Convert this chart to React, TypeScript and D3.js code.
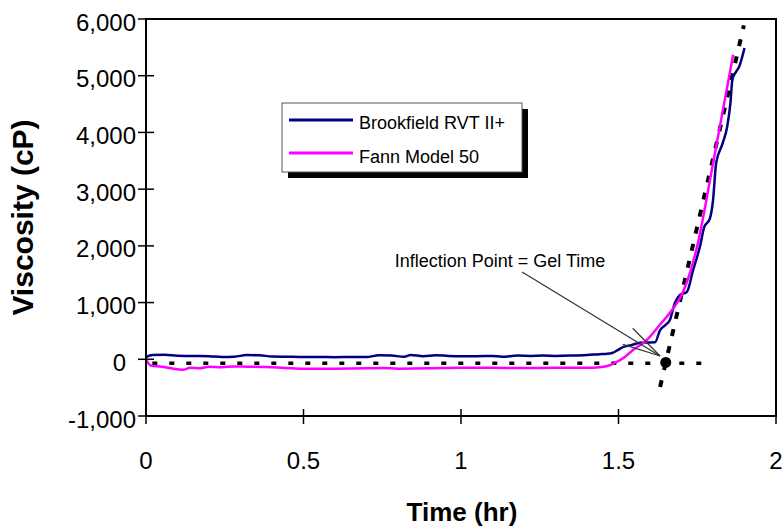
import React from "react";
import * as d3 from "d3";

// ---- data ----
const X_TICKS = [0, 0.5, 1, 1.5, 2];
const X_TICK_LABELS = ["0", "0.5", "1", "1.5", "2"];
const Y_TICKS = [-1000, 0, 1000, 2000, 3000, 4000, 5000, 6000];
const Y_TICK_LABELS = ["-1,000", "0", "1,000", "2,000", "3,000", "4,000", "5,000", "6,000"];

const SERIES_NAMES = ["Brookfield RVT II+", "Fann Model 50"];

const brookfieldTime = [
  0, 0.02, 0.06, 0.1, 0.15, 0.2, 0.24, 0.28, 0.32, 0.36, 0.4, 0.45, 0.5, 0.55, 0.6, 0.65, 0.7,
  0.74, 0.78, 0.82, 0.84, 0.88, 0.92, 0.96, 1.0, 1.05, 1.1, 1.13, 1.18, 1.22, 1.26, 1.3, 1.35,
  1.4, 1.44, 1.46, 1.48, 1.5, 1.514, 1.54, 1.568, 1.59, 1.616, 1.632, 1.648, 1.663, 1.679,
  1.695, 1.717, 1.737, 1.759, 1.772, 1.79, 1.8, 1.81, 1.83, 1.845, 1.855, 1.862, 1.872, 1.883, 1.9,
];
const brookfieldVisc = [
  40, 75, 80, 62, 58, 55, 40, 45, 75, 70, 50, 45, 40, 40, 38, 40, 40,
  72, 65, 45, 75, 55, 70, 60, 55, 55, 60, 45, 65, 60, 65, 60, 65,
  75, 90, 95, 110, 170, 216, 250, 290, 295, 300, 516, 600, 693, 993,
  1134, 1187, 1575, 2000, 2330, 2480, 2800, 3460, 3800, 4100, 4500, 4950, 5060, 5160, 5490,
];

const fannTime = [
  0, 0.015, 0.05, 0.08, 0.117, 0.14, 0.17, 0.2, 0.24, 0.28, 0.32, 0.4, 0.5, 0.6, 0.7, 0.75,
  0.8, 0.9, 1.0, 1.1, 1.2, 1.3, 1.4, 1.44, 1.47, 1.5, 1.52, 1.545, 1.59, 1.63, 1.67, 1.7,
  1.73, 1.75, 1.8, 1.864,
];
const fannVisc = [
  0, -110, -130, -160, -185, -150, -160, -130, -140, -125, -130, -140, -165, -165, -160, -155,
  -165, -160, -150, -150, -155, -150, -150, -140, -110, -30, 40, 160, 340, 600, 870, 1130,
  1580, 2000, 3450, 5370,
];

// baseline and tangent construction lines
const baselineTime = [0.02, 1.79];
const baselineVisc = [-70, -70];
const tangentTime = [1.632, 1.898];
const tangentVisc = [-490, 5887];
const gelPoint = { t: 1.65, v: -55 };
const annotationText = "Inflection Point = Gel Time";
const annotationAt = { t: 1.124, v: 1628 };
const arrowFrom = { t: 1.194, v: 1540 };
const arrowTo = { t: 1.632, v: 58 };

const FONT = "'Liberation Sans', Arial, Helvetica, sans-serif";

export default function App() {
  const W = 783;
  const H = 527;
  const x = d3.scaleLinear().domain([0, 2]).range([146, 776]);
  const y = d3.scaleLinear().domain([-1000, 6000]).range([416, 19]);

  const line = d3
    .line<[number, number]>()
    .x((d) => x(d[0]))
    .y((d) => y(d[1]))
    .curve(d3.curveMonotoneX);
  const straight = d3
    .line<[number, number]>()
    .x((d) => x(d[0]))
    .y((d) => y(d[1]));

  const bPts = brookfieldTime.map((t, i) => [t, brookfieldVisc[i]] as [number, number]);
  const fPts = fannTime.map((t, i) => [t, fannVisc[i]] as [number, number]);
  const basePts = baselineTime.map((t, i) => [t, baselineVisc[i]] as [number, number]);
  const tanPts = tangentTime.map((t, i) => [t, tangentVisc[i]] as [number, number]);

  // arrow geometry
  const ax1 = x(arrowFrom.t), ay1 = y(arrowFrom.v);
  const ax2 = x(arrowTo.t), ay2 = y(arrowTo.v);
  const ang = Math.atan2(ay2 - ay1, ax2 - ax1);
  const headLen = 39;
  const headAng = (14 * Math.PI) / 180;
  const w1 = [ax2 - headLen * Math.cos(ang - headAng), ay2 - headLen * Math.sin(ang - headAng)];
  const w2 = [ax2 - headLen * Math.cos(ang + headAng), ay2 - headLen * Math.sin(ang + headAng)];

  const [x0, x1] = x.range();
  const [yb, yt] = y.range();

  return (
    <svg
      width={W}
      height={H}
      style={{ position: "absolute", left: 0, top: 0, background: "#fff" }}
      fontFamily={FONT}
    >
      <rect x={0} y={0} width={W} height={H} fill="#fff" />

      {/* data lines */}
      <path d={straight(basePts) || ""} fill="none" stroke="#000" strokeWidth={3.5} strokeDasharray="5 12" />
      <path d={straight(tanPts) || ""} fill="none" stroke="#000" strokeWidth={4} strokeDasharray="7 10.5" />
      <path d={line(bPts) || ""} fill="none" stroke="#000080" strokeWidth={2.5} />
      <path d={line(fPts) || ""} fill="none" stroke="#ff00ff" strokeWidth={2.5} />
      <circle cx={x(gelPoint.t)} cy={y(gelPoint.v)} r={5.5} fill="#000" />

      {/* annotation */}
      <line x1={ax1} y1={ay1} x2={ax2} y2={ay2} stroke="#333" strokeWidth={1.2} />
      <line x1={ax2} y1={ay2} x2={w1[0]} y2={w1[1]} stroke="#333" strokeWidth={1.2} />
      <line x1={ax2} y1={ay2} x2={w2[0]} y2={w2[1]} stroke="#333" strokeWidth={1.2} />
      <text x={x(annotationAt.t)} y={y(annotationAt.v)} fontSize={18} textAnchor="middle" fill="#000">
        {annotationText}
      </text>

      {/* frame */}
      <rect x={x0} y={yt} width={x1 - x0} height={yb - yt} fill="none" stroke="#000" strokeWidth={2} />

      {/* y ticks */}
      {Y_TICKS.map((v, i) => (
        <g key={"y" + v}>
          <line x1={x0 - 8} x2={x0 + 8} y1={y(v)} y2={y(v)} stroke="#000" strokeWidth={1.5} />
          <text
            x={x0 - 10 - (v === 0 ? 10 : 0)}
            y={y(v)}
            dy="0.48em"
            textAnchor="end"
            fontSize={24}
            fill="#000"
          >
            {Y_TICK_LABELS[i]}
          </text>
        </g>
      ))}

      {/* x ticks */}
      {X_TICKS.map((t, i) => (
        <g key={"x" + t}>
          <line x1={x(t)} x2={x(t)} y1={yb - 7} y2={yb + 8} stroke="#000" strokeWidth={1.5} />
          <text x={x(t)} y={yb + 53} textAnchor="middle" fontSize={24} fill="#000">
            {X_TICK_LABELS[i]}
          </text>
        </g>
      ))}

      {/* axis titles */}
      <text x={462} y={521} textAnchor="middle" fontSize={26} fontWeight="bold" fill="#000">
        Time (hr)
      </text>
      <text
        transform={`translate(33, ${(yt + yb) / 2}) rotate(-90)`}
        textAnchor="middle"
        fontSize={30}
        fontWeight="bold"
        fill="#000"
      >
        Viscosity (cP)
      </text>

      {/* legend */}
      <g>
        <rect x={288} y={109} width={240} height={69} fill="#000" />
        <rect x={282} y={103} width={240} height={69} fill="#fff" stroke="#555" strokeWidth={1} />
        <line x1={289} x2={353} y1={120} y2={120} stroke="#000080" strokeWidth={3} />
        <line x1={289} x2={353} y1={153} y2={153} stroke="#ff00ff" strokeWidth={3} />
        <text x={359} y={129} fontSize={18} fill="#000">{SERIES_NAMES[0]}</text>
        <text x={359} y={163} fontSize={18} fill="#000">{SERIES_NAMES[1]}</text>
      </g>
    </svg>
  );
}
